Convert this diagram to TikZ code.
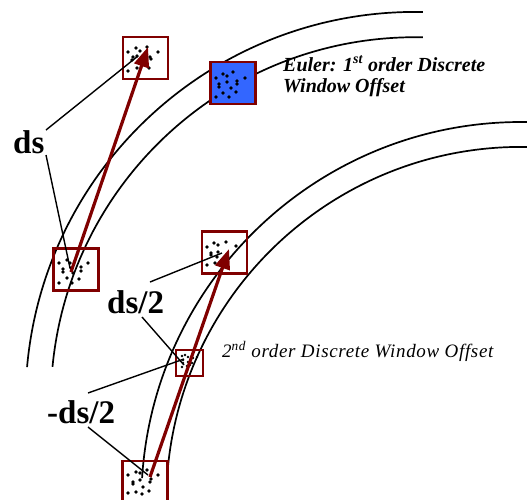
\documentclass[tikz,border=0pt]{standalone}
\usepackage{fontspec}
\setmainfont{Liberation Serif}
\usetikzlibrary{arrows.meta}
\definecolor{boxred}{RGB}{128,0,0}
\definecolor{winblue}{RGB}{51,102,255}
\tikzset{
  win/.style={draw=boxred, line width=2.2pt, minimum width=45pt, minimum height=42pt, inner sep=0pt},
  smallwin/.style={win, minimum width=27pt, minimum height=26pt},
  path arc/.style={line width=1.7pt, black},
  leader/.style={line width=1.4pt, black},
  offset/.style={draw=boxred, line width=3.2pt, -{Triangle[length=20pt,width=15pt]}},
  biglabel/.style={font=\fontsize{33}{33}\selectfont\bfseries, inner sep=0pt, anchor=base west},
  dot/.style={fill=black}
}
\newcommand{\dotset}[1]{\foreach \p in {#1} \fill[dot] \p circle[radius=1.8];}
\begin{document}
\begin{tikzpicture}[x=1pt,y=-1pt]
\useasboundingbox (0,0) rectangle (527,499);
\clip (0,0) rectangle (527,499);

% flow-line arcs, upper pair and lower pair
\draw[path arc] ([shift={(415.3,401.7)}]185.1:389.8) arc[start angle=185.1,end angle=271.1,radius=389.8];
\draw[path arc] ([shift={(415.3,401.7)}]185.5:364.5) arc[start angle=185.5,end angle=271.2,radius=364.5];
\draw[path arc] ([shift={(521.2,501.9)}]183.6:379.9) arc[start angle=183.6,end angle=272,radius=379.9];
\draw[path arc] ([shift={(521.2,501.9)}]184.0:355) arc[start angle=184.0,end angle=272,radius=355];

% interrogation windows
\node[win] (eA) at (145.5,58) {};
\node[win, fill=winblue] (eB) at (233,83) {};
\node[win] (e0) at (76,269.5) {};
\node[win] (sB) at (224.5,252.5) {};
\node[smallwin] (sM) at (189.5,363) {};
\node[win] (s0) at (145,482) {};

% particle dots
\dotset{(128,52),(136,48),(140,51),(147,47),(158,52),(133,57),(132,60),(137,56),(150,57),(151,59),(128,71),(137,68),(149,68)}
\dotset{(216,78),(223,74),(227,76),(233,72),(245,78),(219,84),(219,87),(227,82),(237,81),(237,84),(231,88),(216,97),(223,93),(229,97),(236,92)}
\dotset{(59,263),(67,260),(70,263),(63,269),(63,272),(71,268),(81,267),(81,271),(88,263),(59,283),(67,278),(72,283),(79,279),(73,273)}
\dotset{(207,247),(214,243),(218,245),(226,242),(236,246),(211,253),(211,255),(218,252),(217,257),(207,265),(215,263),(222,260)}
\dotset{(128,475),(136,472),(140,473),(147,470),(158,475),(133,482),(133,484),(140,480),(150,482),(151,479),(128,493),(136,492),(142,494),(149,491),(143,487)}
\foreach \p in {(182,356),(185,355),(188,357),(193,358),(197,357),(183,360),(183,363),(188,362),(192,363),(187,366),(190,365),(182,367)}
  \fill[dot] \p circle[radius=1.3];

% window offset vectors
\coordinate (eStart) at (71,272);
\coordinate (eTip) at (148,47);
\coordinate (sStart) at (150,477);
\coordinate (sTip) at (229,249);
\draw[offset] (eStart) -- (eTip);
\draw[offset] (sStart) -- (sTip);

% labels
\node[biglabel] (ds) at (13,153) {ds};
\node[biglabel] (dshalf) at (107,313) {ds/2};
\node[biglabel] (mdshalf) at (47,423) {-ds/2};

\node[inner sep=0pt, anchor=base west, align=left,
      font=\fontsize{20}{21}\selectfont\bfseries\itshape] (euler) at (283,92)
  {Euler: 1\textsuperscript{st} order Discrete\\Window Offset};
\node[inner sep=0pt, anchor=base west,
      font=\fontsize{19}{19}\selectfont\itshape\addfontfeature{LetterSpace=3.5}] (second) at (222,357)
  {2\textsuperscript{nd} order Discrete Window Offset};

% leader lines
\coordinate (dsU) at (46,130);
\coordinate (dsL) at (46,155);
\coordinate (dhU) at (150,282);
\coordinate (dhL) at (142,317);
\coordinate (mdU) at (88,393);
\coordinate (mdL) at (88,427);
\coordinate (tA) at (138,56);
\coordinate (t0) at (70,268);
\coordinate (tB) at (222,253);
\coordinate (tM1) at (184,365);
\coordinate (tM2) at (184,359);
\coordinate (tS) at (148,475);
\draw[leader] (dsU) -- (tA);
\draw[leader] (dsL) -- (t0);
\draw[leader] (dhU) -- (tB);
\draw[leader] (dhL) -- (tM1);
\draw[leader] (mdU) -- (tM2);
\draw[leader] (mdL) -- (tS);
\end{tikzpicture}
\end{document}
